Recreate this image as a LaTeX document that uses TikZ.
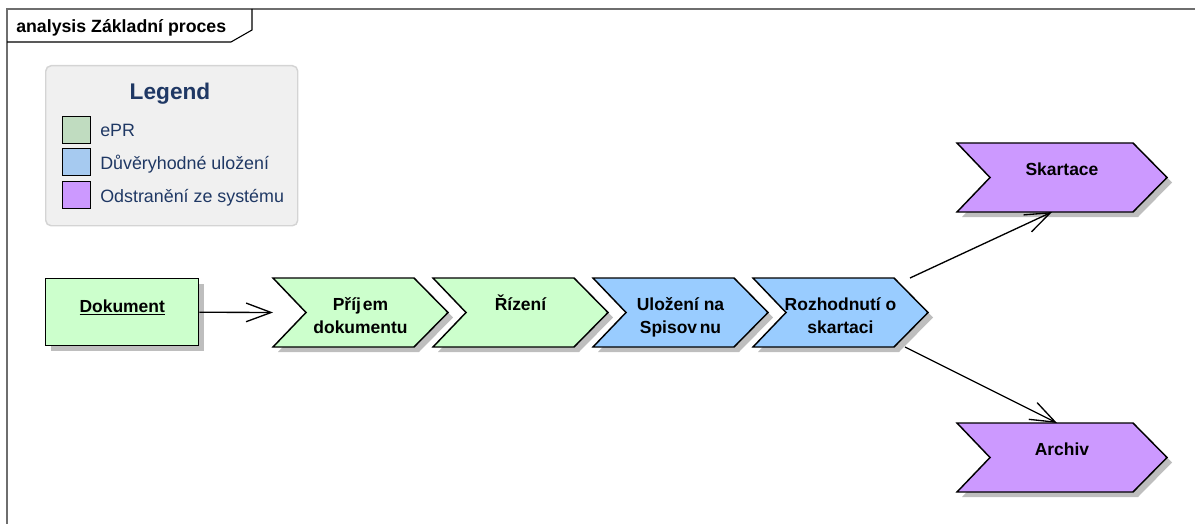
\documentclass[tikz,border=0pt]{standalone}
\usepackage{fontspec}
\setmainfont{Liberation Sans}
\usetikzlibrary{calc,arrows.meta,shadows}

\definecolor{stepgreen}{HTML}{CCFFCC}
\definecolor{stepblue}{HTML}{99CCFF}
\definecolor{steppurple}{HTML}{CC99FF}
\definecolor{keygreen}{RGB}{192,220,192}
\definecolor{keyblue}{RGB}{166,202,240}
\definecolor{keypurple}{RGB}{204,153,255}
\definecolor{shadowgrey}{RGB}{190,190,190}
\definecolor{legendfill}{RGB}{240,240,240}
\definecolor{legendedge}{RGB}{212,212,212}
\definecolor{legendtext}{RGB}{31,56,100}
\definecolor{framegrey}{RGB}{110,110,110}

% strut that fixes the height of a label's first line
\newcommand\lblstrut{\rule{0pt}{13pt}}

% process step drawn as a chevron: name, left x, top y, width, fill, label
\newcommand\procstep[6]{%
  \node[stepframe, minimum width=#4*0.75pt] (#1) at (#2,#3) {};
  \draw[stepline, fill=#5] (#1.north west) -- ($(#1.north east)+(-34,0)$)
    -- (#1.east) -- ($(#1.south east)+(-34,0)$) -- (#1.south west)
    -- ($(#1.west)+(33,0)$) -- cycle;
  \node[steptext] (#1-label) at ($(#1.north)+(0,14.7)$) {\lblstrut #6};
}

\begin{document}
\begin{tikzpicture}[x=0.75pt,y=-0.75pt,
  shadowed/.style={drop shadow={shadow xshift=3.75pt, shadow yshift=-3.75pt,
      fill=shadowgrey, opacity=1}},
  stepframe/.style={rectangle, inner sep=0pt, outer sep=0pt,
      minimum height=69*0.75pt, anchor=north west},
  stepline/.style={draw=black, line width=1.1pt, line join=miter, shadowed},
  steptext/.style={inner sep=0pt, anchor=north, align=center,
      font=\fontsize{13.1pt}{17.25pt}\selectfont\bfseries},
  conn/.style={draw=black, line width=1pt,
      -{Straight Barb[length=18.75pt, width=14pt, line width=1pt]}},
  keybox/.style={draw=black, line width=1.1pt, inner sep=0pt,
      minimum width=28*0.75pt, minimum height=27*0.75pt, anchor=north west},
  keytext/.style={inner sep=0pt, anchor=base west, text=legendtext,
      font=\fontsize{13.4pt}{15pt}\selectfont}
]
\useasboundingbox (0,0) rectangle (1195,524);

% diagram frame and its name tab
\draw[framegrey, line width=1.3pt] (1195,9) -- (7,9) -- (7,524);
\draw[black, line width=0.8pt] (7,42) -- (231,42) -- (252,30) -- (252,9);
\node[inner sep=0pt, anchor=base west, font=\fontsize{13.3pt}{15pt}\selectfont\bfseries]
  (title) at (16,33) {analysis Základní proces};

% legend
\node[rectangle, rounded corners=4pt, draw=legendedge, line width=1.1pt,
  fill=legendfill, anchor=north west, inner sep=0pt,
  minimum width=252*0.75pt, minimum height=160*0.75pt] (legend) at (45,65) {};
\node[inner sep=0pt, anchor=base, text=legendtext,
  font=\fontsize{17pt}{18pt}\selectfont\bfseries] (legend-title) at (170,100) {Legend};
\node[keybox, fill=keygreen] (key1) at (62,116) {};
\node[keybox, fill=keyblue] (key2) at (62,148) {};
\node[keybox, fill=keypurple] (key3) at (62,181) {};
\node[keytext] (key1-text) at (100,137) {ePR};
\node[keytext] (key2-text) at (100,170) {Důvěryhodné uložení};
\node[keytext] (key3-text) at (100,202) {Odstranění ze systému};

% source document
\node[rectangle, draw=black, line width=1.1pt, fill=stepgreen, shadowed,
  anchor=north west, inner sep=0pt, minimum width=153*0.75pt,
  minimum height=67*0.75pt, text height=6pt, text depth=6pt,
  font=\fontsize{13.1pt}{15pt}\selectfont\bfseries] (dok) at (45,278)
  {\underline{Dokument}};

% process chain
\procstep{prijem}{273}{278}{175}{stepgreen}{Příj\kern1.5pt em\\dokumentu}
\procstep{rizeni}{433}{278}{175}{stepgreen}{Řízení}
\procstep{ulozeni}{593}{278}{175}{stepblue}{Uložení na\\Spisov\kern2pt nu}
\procstep{rozhod}{753}{278}{175}{stepblue}{Rozhodnutí o\\skartaci}
\procstep{skartace}{957}{143}{210}{steppurple}{Skartace}
\procstep{archiv}{957}{423}{210}{steppurple}{Archiv}

% flows
\draw[conn] (dok.east) -- (prijem.west);
\draw[conn] ($(rozhod.north east)+(-18,0)$) -- ($(skartace.south west)+(95,0)$);
\draw[conn] ($(rozhod.south east)+(-23,0)$) -- ($(archiv.north west)+(100,0)$);
\end{tikzpicture}
\end{document}
